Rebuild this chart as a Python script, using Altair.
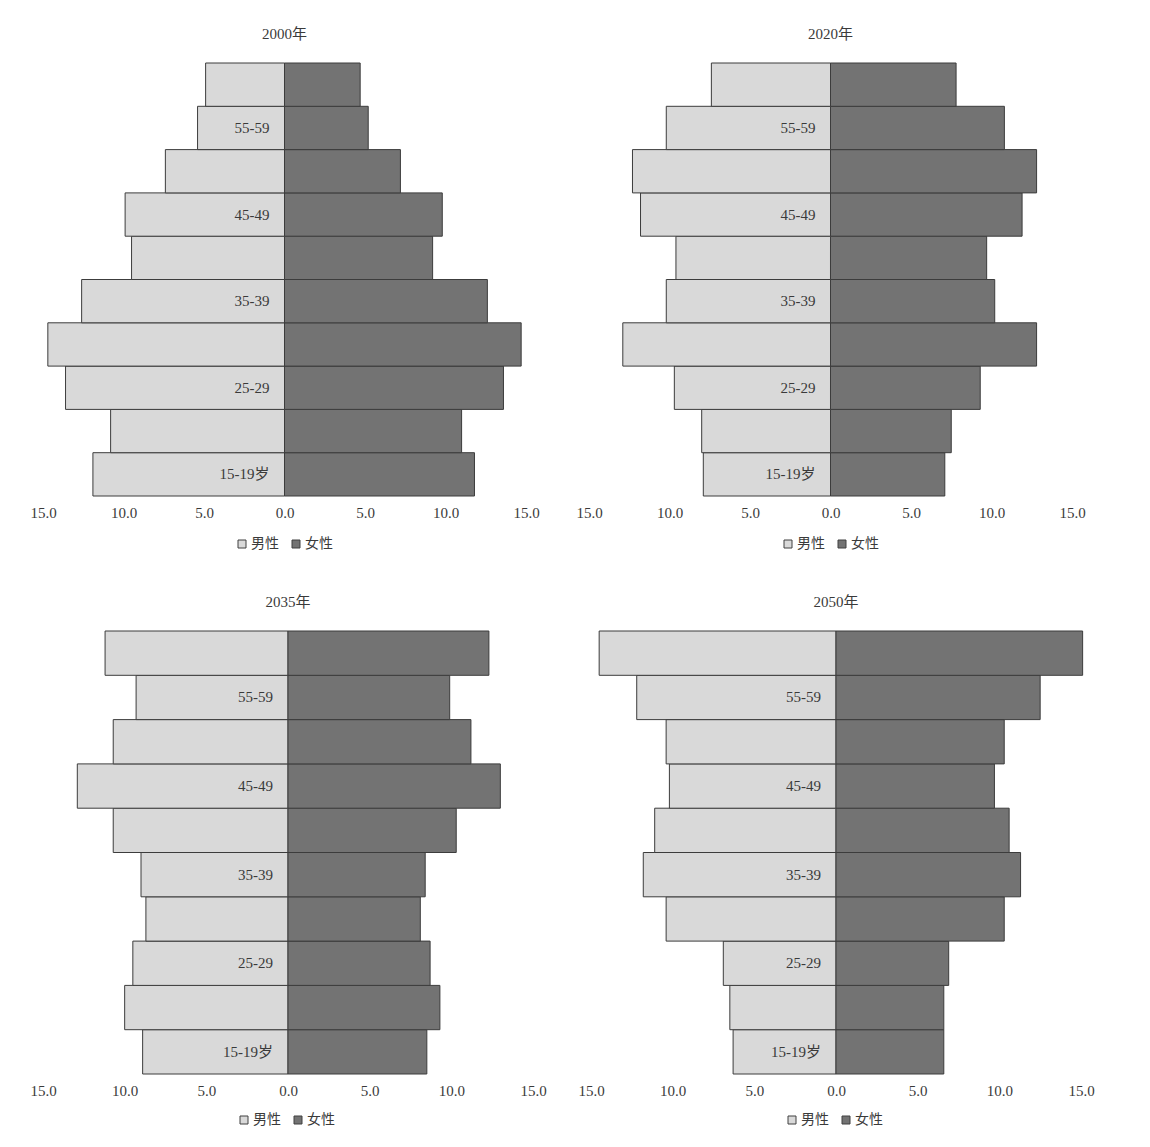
import altair as alt
import pandas as pd

ages = ["15-19", "20-24", "25-29", "30-34", "35-39", "40-44", "45-49", "50-54", "55-59", "60-64"]
age_labels = ["15-19岁", "", "25-29", "", "35-39", "", "45-49", "", "55-59", ""]
sexes = ["男性", "女性"]
ticks = [-15, -10, -5, 0, 5, 10, 15]

male_2000 = [11.9, 10.8, 13.6, 14.7, 12.6, 9.5, 9.9, 7.4, 5.4, 4.9]
female_2000 = [11.8, 11.0, 13.6, 14.7, 12.6, 9.2, 9.8, 7.2, 5.2, 4.7]
male_2020 = [7.9, 8.0, 9.7, 12.9, 10.2, 9.6, 11.8, 12.3, 10.2, 7.4]
female_2020 = [7.1, 7.5, 9.3, 12.8, 10.2, 9.7, 11.9, 12.8, 10.8, 7.8]
male_2035 = [8.9, 10.0, 9.5, 8.7, 9.0, 10.7, 12.9, 10.7, 9.3, 11.2]
female_2035 = [8.5, 9.3, 8.7, 8.1, 8.4, 10.3, 13.0, 11.2, 9.9, 12.3]
male_2050 = [6.3, 6.5, 6.9, 10.4, 11.8, 11.1, 10.2, 10.4, 12.2, 14.5]
female_2050 = [6.6, 6.6, 6.9, 10.3, 11.3, 10.6, 9.7, 10.3, 12.5, 15.1]

SERIF = "Liberation Serif, Noto Sans CJK SC"
CJK = "Noto Sans CJK SC"
TXT = "#3a3a3a"


def panel(title, male, female, w, h, lx, ly):
    rows = []
    for a, lab, m, f in zip(ages, age_labels, male, female):
        rows.append({"age": a, "label": lab, "sex": sexes[0], "value": -m})
        rows.append({"age": a, "label": lab, "sex": sexes[1], "value": f})
    df = pd.DataFrame(rows)
    y = alt.Y("age:N", sort=ages[::-1], axis=None,
              scale=alt.Scale(paddingInner=0, paddingOuter=0))
    x = alt.X("value:Q",
              scale=alt.Scale(domain=[-15, 15], nice=False, zero=False),
              axis=alt.Axis(values=ticks, labelExpr="format(abs(datum.value), '.1f')",
                            title=None, grid=False, domain=False, ticks=False,
                            labelFlush=False,
                            labelFont=SERIF, labelFontSize=15, labelColor=TXT,
                            labelPadding=9))
    bars = alt.Chart(df).mark_bar(stroke="#3c3c3c", strokeWidth=1).encode(
        x=x,
        y=y,
        color=alt.Color("sex:N",
                        scale=alt.Scale(domain=sexes, range=["#d9d9d9", "#737373"]),
                        legend=alt.Legend(orient="none", legendX=lx, legendY=ly,
                                          direction="horizontal", title=None,
                                          symbolType="square", symbolSize=64,
                                          symbolStrokeColor="#404040", symbolStrokeWidth=1,
                                          labelFont=CJK, labelFontSize=14, labelColor=TXT,
                                          labelOffset=2, columnPadding=10)),
    )
    text = alt.Chart(df[df["sex"] == sexes[0]]).mark_text(
        align="right", baseline="middle", dx=-15, font=SERIF, fontSize=15, color=TXT
    ).encode(x=alt.datum(0), y=y, text="label:N")
    return alt.layer(bars, text).properties(
        width=w, height=h,
        title=alt.TitleParams(title, font=SERIF, fontSize=15, fontWeight="normal",
                              color=TXT, offset=21, anchor="middle"),
    )


p1 = panel("2000年", male_2000, female_2000, 483, 433, 192, 474)
p2 = panel("2020年", male_2020, female_2020, 483, 433, 192, 474)
p3 = panel("2035年", male_2035, female_2035, 490, 443, 194, 482)
p4 = panel("2050年", male_2050, female_2050, 490, 443, 194, 482)

row1 = alt.hconcat(p1, p2, spacing=35).resolve_scale(color="independent").resolve_legend(color="independent")
row2 = alt.hconcat(p3, p4, spacing=30).resolve_scale(color="independent").resolve_legend(color="independent")

chart = (
    alt.vconcat(row1, row2, spacing=43)
    .resolve_scale(color="independent")
    .resolve_legend(color="independent")
    .properties(padding={"left": 21, "top": 18, "right": 5, "bottom": 5}, background="white")
    .configure_view(stroke=None)
)

chart.save("out.html", embed_options={"renderer": "svg", "actions": False})
